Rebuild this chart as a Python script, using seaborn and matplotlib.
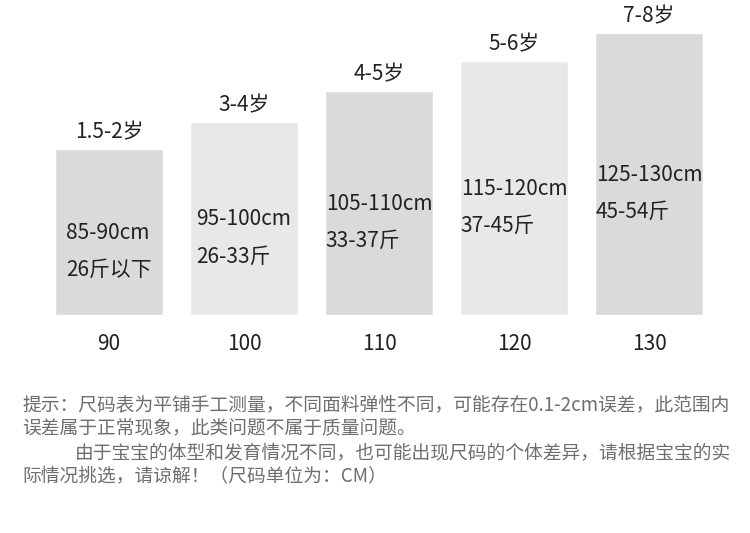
import matplotlib
matplotlib.use("Agg")
import matplotlib.pyplot as plt
import seaborn as sns
import pandas as pd

sizes = ["90", "100", "110", "120", "130"]
ages = ["1.5-2岁", "3-4岁", "4-5岁", "5-6岁", "7-8岁"]
height_ranges = ["85-90cm", "95-100cm", "105-110cm", "115-120cm", "125-130cm"]
weight_ranges = ["26斤以下", "26-33斤", "33-37斤", "37-45斤", "45-54斤"]
bar_heights = [166, 193, 224, 254, 282]
bar_colors = ["#dadada", "#e8e8e8", "#dadada", "#e8e8e8", "#dadada"]

notes = [
    "提示：尺码表为平铺手工测量，不同面料弹性不同，可能存在0.1-2cm误差，此范围内",
    "误差属于正常现象，此类问题不属于质量问题。",
    "由于宝宝的体型和发育情况不同，也可能出现尺码的个体差异，请根据宝宝的实",
    "际情况挑选，请谅解！（尺码单位为：CM）",
]

sns.set_theme(style="white")
plt.rcParams["font.family"] = ["Noto Sans CJK SC", "DejaVu Sans"]

df = pd.DataFrame({"size": sizes, "value": bar_heights})

fig = plt.figure(figsize=(7.5, 5.33), dpi=100)
ax = fig.add_axes([41.5 / 750, (533 - 315) / 533, 675 / 750, 315 / 533])
sns.barplot(data=df, x="size", y="value", hue="size", palette=bar_colors,
            legend=False, width=0.8, ax=ax, saturation=1)
ax.set_xlim(-0.5, 4.5)
ax.set_ylim(0, 315)
ax.set_xlabel("")
ax.set_ylabel("")
ax.set_yticks([])
for s in ax.spines.values():
    s.set_visible(False)
ax.tick_params(axis="x", length=0, pad=13, labelsize=15, labelcolor="#222222")

for i, h in enumerate(bar_heights):
    ax.annotate(ages[i], xy=(i, h), xytext=(0, 12), textcoords="offset points",
                ha="center", va="center", fontsize=15, color="#222222")
    ax.annotate(height_ranges[i] + "\n" + weight_ranges[i], xy=(i, h / 2),
                xytext=(0, -14), textcoords="offset points",
                ha="center", va="center", multialignment="left",
                fontsize=15, color="#222222", linespacing=1.88)

note_kw = dict(fontsize=13.5, color="#6e6e6e", va="center", ha="left")
fig.text(22 / 750, 1 - 405 / 533, notes[0], **note_kw)
fig.text(22 / 750, 1 - 429 / 533, notes[1], **note_kw)
fig.text(75 / 750, 1 - 453 / 533, notes[2], **note_kw)
fig.text(22 / 750, 1 - 477 / 533, notes[3], **note_kw)

fig.savefig("out.png", dpi=100)
